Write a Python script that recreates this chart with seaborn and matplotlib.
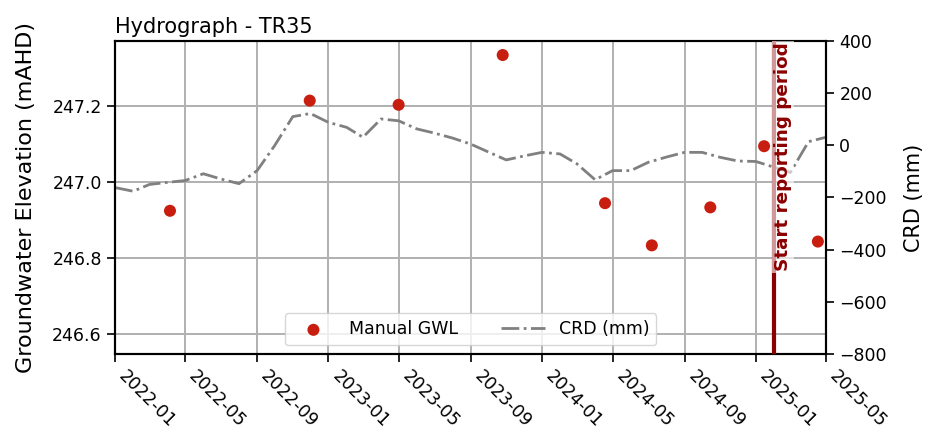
"""Hydrograph for bore TR35: manual groundwater levels against cumulative rainfall departure."""
from __future__ import annotations

import matplotlib

matplotlib.use("Agg")
import matplotlib.dates as mdates
import matplotlib.pyplot as plt
import pandas as pd
import seaborn as sns

TITLE = "Hydrograph - TR35"

# Manual groundwater level readings (mAHD)
gwl_dates = [
    "2022-04-05", "2022-11-30", "2023-05-01", "2023-10-26", "2024-04-18",
    "2024-07-07", "2024-10-15", "2025-01-15", "2025-04-17",
]
gwl_values = [246.924, 247.214, 247.203, 247.334, 246.944, 246.833, 246.933, 247.094, 246.843]

# Cumulative rainfall departure, monthly (mm)
crd_dates = pd.date_range("2022-01-01", "2025-05-01", freq="MS").strftime("%Y-%m-%d").tolist()
crd_values = [
    -162, -176, -150, -142, -135, -109, -129, -147, -97, -1, 110, 122,
    88, 69, 31, 101, 94, 63, 47, 28, 5, -25, -56, -41,
    -27, -33, -71, -132, -97, -97, -65, -45, -27, -27, -46, -60,
    -62, -84, -104, 14, 31,
]

reporting_start = "2025-02-01"
x_ticks = ["2022-01-01", "2022-05-01", "2022-09-01", "2023-01-01", "2023-05-01", "2023-09-01",
           "2024-01-01", "2024-05-01", "2024-09-01", "2025-01-01", "2025-05-01"]
gwl_ticks = [246.6, 246.8, 247.0, 247.2]
crd_ticks = [-800, -600, -400, -200, 0, 200, 400]

RED = "#c81e0f"
GREY = "#808080"
DARKRED = "#8b0000"


def main() -> int:
    gwl = pd.DataFrame({"date": pd.to_datetime(gwl_dates), "gwl": gwl_values})
    crd = pd.DataFrame({"date": pd.to_datetime(crd_dates), "crd": crd_values})

    fig, ax = plt.subplots(figsize=(9.29, 4.44), dpi=100)
    fig.subplots_adjust(left=0.1238, right=0.8892, top=0.9077, bottom=0.2027)
    ax2 = ax.twinx()

    sns.scatterplot(data=gwl, x="date", y="gwl", ax=ax, color=RED, s=75,
                    edgecolor="none", label="Manual GWL", legend=False, zorder=3)
    sns.lineplot(data=crd, x="date", y="crd", ax=ax2, color=GREY, linestyle="-.",
                 linewidth=2, label="CRD (mm)", legend=False)

    ax.set_xlim(pd.Timestamp("2022-01-01"), pd.Timestamp("2025-05-01"))
    ax.set_ylim(246.547, 247.371)
    ax.set_yticks(gwl_ticks)
    ax2.set_ylim(-800, 400)
    ax2.set_yticks(crd_ticks)

    ax.set_xticks(pd.to_datetime(x_ticks))
    ax.xaxis.set_major_formatter(mdates.DateFormatter("%Y-%m"))
    for lbl in ax.get_xticklabels():
        lbl.set_rotation(-45)
        lbl.set_ha("left")

    ax.grid(True, color="#b0b0b0", linewidth=1.4)
    ax.set_axisbelow(True)

    # start of reporting period
    rs = pd.Timestamp(reporting_start)
    ax2.axvline(rs, color=DARKRED, linewidth=3, zorder=4)
    ax2.text(rs, 0.995, "Start reporting period", transform=ax2.get_xaxis_transform(),
             rotation=90, va="top", ha="left", color=DARKRED, fontsize=13.2,
             fontweight="bold", zorder=5,
             bbox=dict(facecolor="white", alpha=0.6, edgecolor="none", pad=1.5))

    ax.set_xlabel("")
    ax.set_ylabel("Groundwater Elevation (mAHD)", fontsize=16, labelpad=12)
    ax2.set_ylabel("CRD (mm)", fontsize=15, labelpad=12)
    ax.set_title(TITLE, loc="left", fontsize=15)
    ax.tick_params(axis="both", labelsize=12.5, length=6, width=1.2)
    ax2.tick_params(axis="y", labelsize=12.5, length=6, width=1.2)
    for a in (ax, ax2):
        for sp in a.spines.values():
            sp.set_linewidth(1.5)

    h1, l1 = ax.get_legend_handles_labels()
    h2, l2 = ax2.get_legend_handles_labels()
    ax2.legend(h1 + h2, l1 + l2, loc="lower center", ncol=2, fontsize=12.5,
               columnspacing=2.5, handlelength=2.5)

    fig.savefig("out.png", dpi=100)
    plt.close(fig)
    return 0


if __name__ == "__main__":
    raise SystemExit(main())
